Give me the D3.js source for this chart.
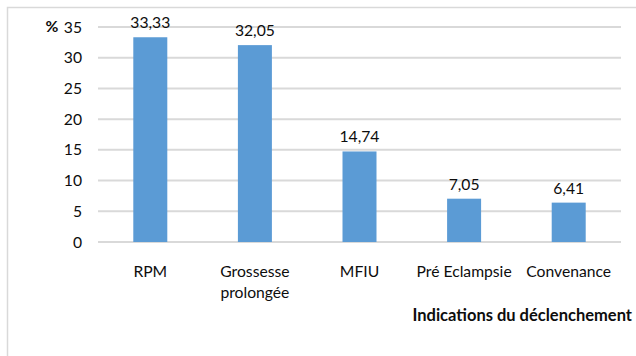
<!DOCTYPE html>
<html>
<head>
<meta charset="utf-8">
<script src="https://cdn.jsdelivr.net/npm/d3@7"></script>
<style>
  html, body { margin: 0; padding: 0; background: #fff; }
  svg { display: block; }
  text { font-family: Lato, "Open Sans", sans-serif; fill: #0d0d0d; }
</style>
</head>
<body>
<svg id="chart" width="636" height="356"></svg>
<script>
// Indications du déclenchement (%)
const categories = [["RPM"], ["Grossesse", "prolongée"], ["MFIU"], ["Pré Eclampsie"], ["Convenance"]];
const values = [33.33, 32.05, 14.74, 7.05, 6.41];
const yTicks = [0, 5, 10, 15, 20, 25, 30, 35];
const yUnit = "%";
const axisTitle = "Indications du déclenchement";

const FS = "15.7px";
const svg = d3.select("#chart");
const W = 636, H = 356;
const m = { left: 98, right: 15, top: 27, bottom: 114 };

// chart frame
svg.append("rect")
  .attr("x", 7.5).attr("y", 7.5)
  .attr("width", W + 10).attr("height", H + 10)
  .attr("fill", "none").attr("stroke", "#d9d9d9").attr("stroke-width", 1.5);

const x = d3.scaleBand()
  .domain(categories.map((d, i) => i))
  .range([m.left, W - m.right])
  .paddingInner(0.675).paddingOuter(0.3375);

const y = d3.scaleLinear().domain([0, 35]).range([H - m.bottom, m.top]);

// gridlines
svg.append("g").selectAll("line").data(yTicks).join("line")
  .attr("x1", m.left).attr("x2", W - m.right)
  .attr("y1", d => y(d)).attr("y2", d => y(d))
  .attr("stroke", "#d9d9d9").attr("stroke-width", 2);

// y axis labels
const yAxis = d3.axisLeft(y).tickValues(yTicks).tickSize(0).tickPadding(16)
  .tickFormat(d3.format("d"));
const gy = svg.append("g").attr("transform", `translate(${m.left},0)`).call(yAxis);
gy.select(".domain").remove();
gy.selectAll("text").style("font-family", "Lato, sans-serif").style("font-size", FS).attr("fill", "#0d0d0d");

svg.append("text")
  .attr("x", 52).attr("y", y(35)).attr("dy", "0.32em")
  .attr("text-anchor", "middle")
  .style("font-size", FS).style("font-weight", "bold")
  .text(yUnit);

// bars
svg.append("g").selectAll("rect").data(values).join("rect")
  .attr("x", (d, i) => x(i)).attr("width", x.bandwidth())
  .attr("y", d => y(d)).attr("height", d => y(0) - y(d))
  .attr("fill", "#5b9bd5");

// value labels
const fmt = v => v.toFixed(2).replace(".", ",");
svg.append("g").selectAll("text").data(values).join("text")
  .attr("x", (d, i) => x(i) + x.bandwidth() / 2)
  .attr("y", d => y(d) - 9)
  .attr("text-anchor", "middle")
  .style("font-size", FS)
  .text(d => fmt(d));

// category labels
const cat = svg.append("g").selectAll("text").data(categories).join("text")
  .attr("x", (d, i) => x(i) + x.bandwidth() / 2)
  .attr("y", 277)
  .attr("text-anchor", "middle")
  .style("font-size", FS);
cat.selectAll("tspan").data(d => d).join("tspan")
  .attr("x", function () { return d3.select(this.parentNode).attr("x"); })
  .attr("dy", (d, j) => j === 0 ? 0 : 21)
  .text(d => d);

// axis title
svg.append("text")
  .attr("x", 632).attr("y", 321)
  .attr("text-anchor", "end")
  .style("font-size", "16.5px").style("font-weight", "bold")
  .text(axisTitle);
</script>
</body>
</html>
